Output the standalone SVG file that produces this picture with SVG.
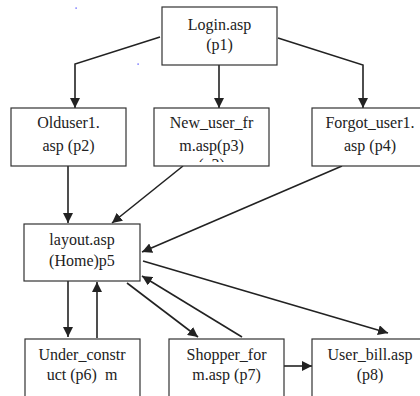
<svg xmlns="http://www.w3.org/2000/svg" width="420" height="396" viewBox="0 0 420 396">
<style>
.box{fill:#fff;stroke:#333;stroke-width:1.2}
.t{font-family:'Liberation Serif','DejaVu Serif',serif;font-size:16px;fill:#222;text-anchor:middle}
.c{fill:none;stroke:#222;stroke-width:1.6}
</style>
<defs>
<marker id="ah" viewBox="0 0 10 10" refX="10" refY="5" markerWidth="10" markerHeight="10" markerUnits="userSpaceOnUse" orient="auto">
<path d="M0,0 L10,5 L0,10 z" fill="#222"/>
</marker>
<clipPath id="clip3"><rect x="154" y="108" width="115" height="54"/></clipPath>
</defs>
<rect width="420" height="396" fill="#fff"/>
<g id="connectors">
<polyline class="c" points="160,37 75,64 75,108" marker-end="url(#ah)"/>
<line class="c" x1="219" y1="65" x2="219" y2="108" marker-end="url(#ah)"/>
<polyline class="c" points="278,38 363,65 363,108" marker-end="url(#ah)"/>
<line class="c" x1="68" y1="163" x2="68" y2="223" marker-end="url(#ah)"/>
<line class="c" x1="183" y1="166" x2="112" y2="223" marker-end="url(#ah)"/>
<line class="c" x1="342" y1="166" x2="142" y2="252" marker-end="url(#ah)"/>
<line class="c" x1="68" y1="278" x2="68" y2="337" marker-end="url(#ah)"/>
<line class="c" x1="97" y1="338" x2="97" y2="282" marker-end="url(#ah)"/>
<line class="c" x1="127" y1="283" x2="198" y2="337" marker-end="url(#ah)"/>
<line class="c" x1="242" y1="337" x2="142" y2="276" marker-end="url(#ah)"/>
<line class="c" x1="143" y1="261" x2="388" y2="333" marker-end="url(#ah)"/>
<line class="c" x1="284" y1="366" x2="312" y2="366" marker-end="url(#ah)"/>
</g>
<g id="p1">
<rect class="box" x="162" y="7" width="115" height="58"/>
<text class="t" font-family="Liberation Serif, serif" x="219.5" y="30">Login.asp</text>
<text class="t" font-family="Liberation Serif, serif" x="219.5" y="50">(p1)</text>
</g>
<g id="p2">
<rect class="box" x="11" y="108" width="115" height="58"/>
<text class="t" x="68.5" y="128">Olduser1.</text>
<text class="t" x="68.5" y="151">asp (p2)</text>
</g>
<g id="p3">
<rect class="box" x="154" y="108" width="115" height="58"/>
<g clip-path="url(#clip3)">
<text class="t" x="211.5" y="128">New_user_fr</text>
<text class="t" x="211.5" y="151">m.asp(p3)</text>
<text class="t" x="211.5" y="170">(p3)</text>
</g>
</g>
<g id="p4">
<rect class="box" x="312" y="108" width="116" height="58"/>
<text class="t" x="370" y="128">Forgot_user1.</text>
<text class="t" x="370" y="151">asp (p4)</text>
</g>
<g id="p5">
<rect class="box" x="24" y="224" width="116" height="57"/>
<text class="t" x="82" y="245">layout.asp</text>
<text class="t" x="82" y="266">(Home)p5</text>
</g>
<g id="p6">
<rect class="box" x="25" y="339" width="115" height="70"/>
<text class="t" x="82" y="360">Under_constr</text>
<text class="t" x="82" y="380" xml:space="preserve">uct (p6)  m</text>
</g>
<g id="p7">
<rect class="box" x="169" y="339" width="115" height="70"/>
<text class="t" x="226.5" y="360">Shopper_for</text>
<text class="t" x="226.5" y="380">m.asp (p7)</text>
</g>
<g id="p8">
<rect class="box" x="312" y="339" width="116" height="70"/>
<text class="t" x="370" y="360">User_bill.asp</text>
<text class="t" x="370" y="380">(p8)</text>
</g>
<rect x="75.5" y="7.5" width="1.2" height="1.2" fill="#33f"/>
<rect x="137.5" y="63.5" width="1.2" height="1.2" fill="#33f"/>
</svg>
